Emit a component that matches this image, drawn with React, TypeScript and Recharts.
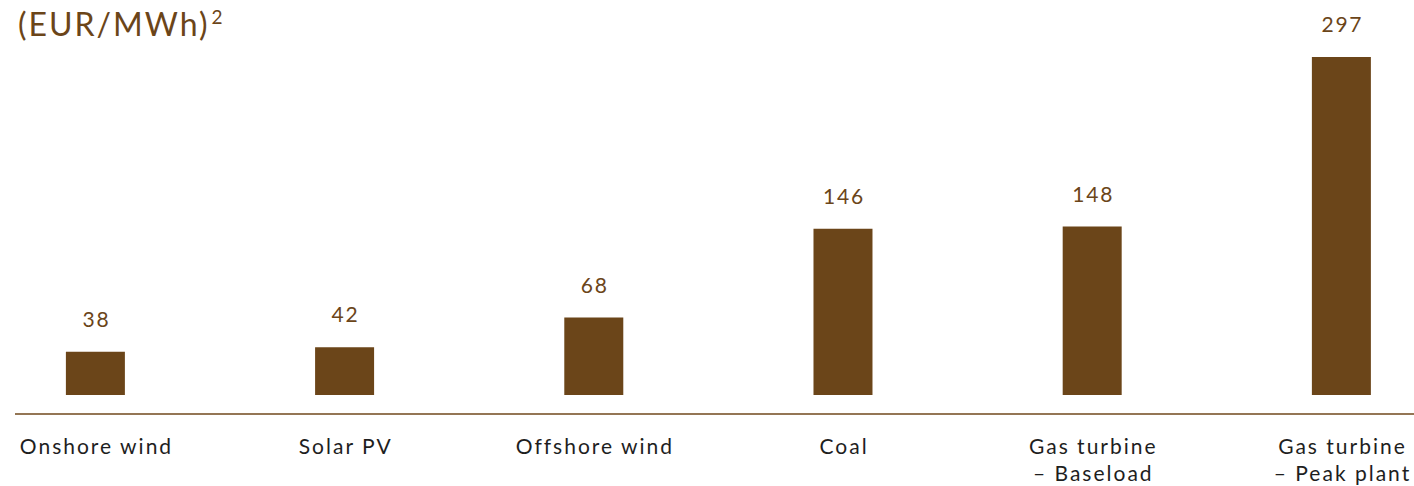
import { Bar, BarChart, LabelList, XAxis, YAxis } from 'recharts';

const categories = [
  ['Onshore wind'],
  ['Solar PV'],
  ['Offshore wind'],
  ['Coal'],
  ['Gas turbine', '– Baseload'],
  ['Gas turbine', '– Peak plant'],
];
const costs = [38, 42, 68, 146, 148, 297];
const tickPositions = [0, 1, 2, 3, 4, 5];

const BROWN = '#6b4519';
const FONT = 'Lato, "Noto Sans", sans-serif';

const data = costs.map((v, i) => ({ idx: i, cost: v }));

function CategoryTick(props: any) {
  const { x, y, payload } = props;
  const lines = categories[payload.value] ?? [];
  return (
    <g>
      {lines.map((line, i) => (
        <text
          key={i}
          x={x + 1}
          y={y + 32 + i * 27}
          textAnchor="middle"
          fill="#1e1e1e"
          fontSize={21}
          letterSpacing={2}
          fontFamily={FONT}
        >
          {line}
        </text>
      ))}
    </g>
  );
}

function ValueLabel(props: any) {
  const { x, y, width, value } = props;
  return (
    <text
      x={x + width / 2 + 1}
      y={y - 25}
      textAnchor="middle"
      fill={BROWN}
      fontSize={21}
      letterSpacing={1.8}
      fontFamily={FONT}
    >
      {value}
    </text>
  );
}

export default function App() {
  return (
    <div
      style={{
        position: 'absolute',
        left: 0,
        top: 0,
        width: 1414,
        height: 486,
        background: '#fff',
        fontFamily: FONT,
      }}
    >
      <div
        style={{
          position: 'absolute',
          left: 18,
          top: 1,
          color: BROWN,
          fontSize: 32,
          letterSpacing: 2,
          lineHeight: '46px',
        }}
      >
        (EUR/MWh)
        <span style={{ fontSize: 19, verticalAlign: 'top', marginLeft: 2, lineHeight: '32px' }}>2</span>
      </div>
      <BarChart
        width={1414}
        height={486}
        data={data}
        margin={{ top: 30, right: 0, bottom: 0, left: 15 }}
      >
        <XAxis
          type="number"
          dataKey="idx"
          domain={[-0.323, 5.291]}
          ticks={tickPositions}
          allowDataOverflow
          height={72}
          tickLine={false}
          axisLine={{ stroke: '#70491d', strokeWidth: 1.5 }}
          tick={<CategoryTick />}
          interval={0}
        />
        <YAxis hide domain={[-16.7, 320.7]} allowDataOverflow />
        <Bar dataKey="cost" fill={BROWN} barSize={59} isAnimationActive={false}>
          <LabelList dataKey="cost" content={<ValueLabel />} />
        </Bar>
      </BarChart>
    </div>
  );
}
